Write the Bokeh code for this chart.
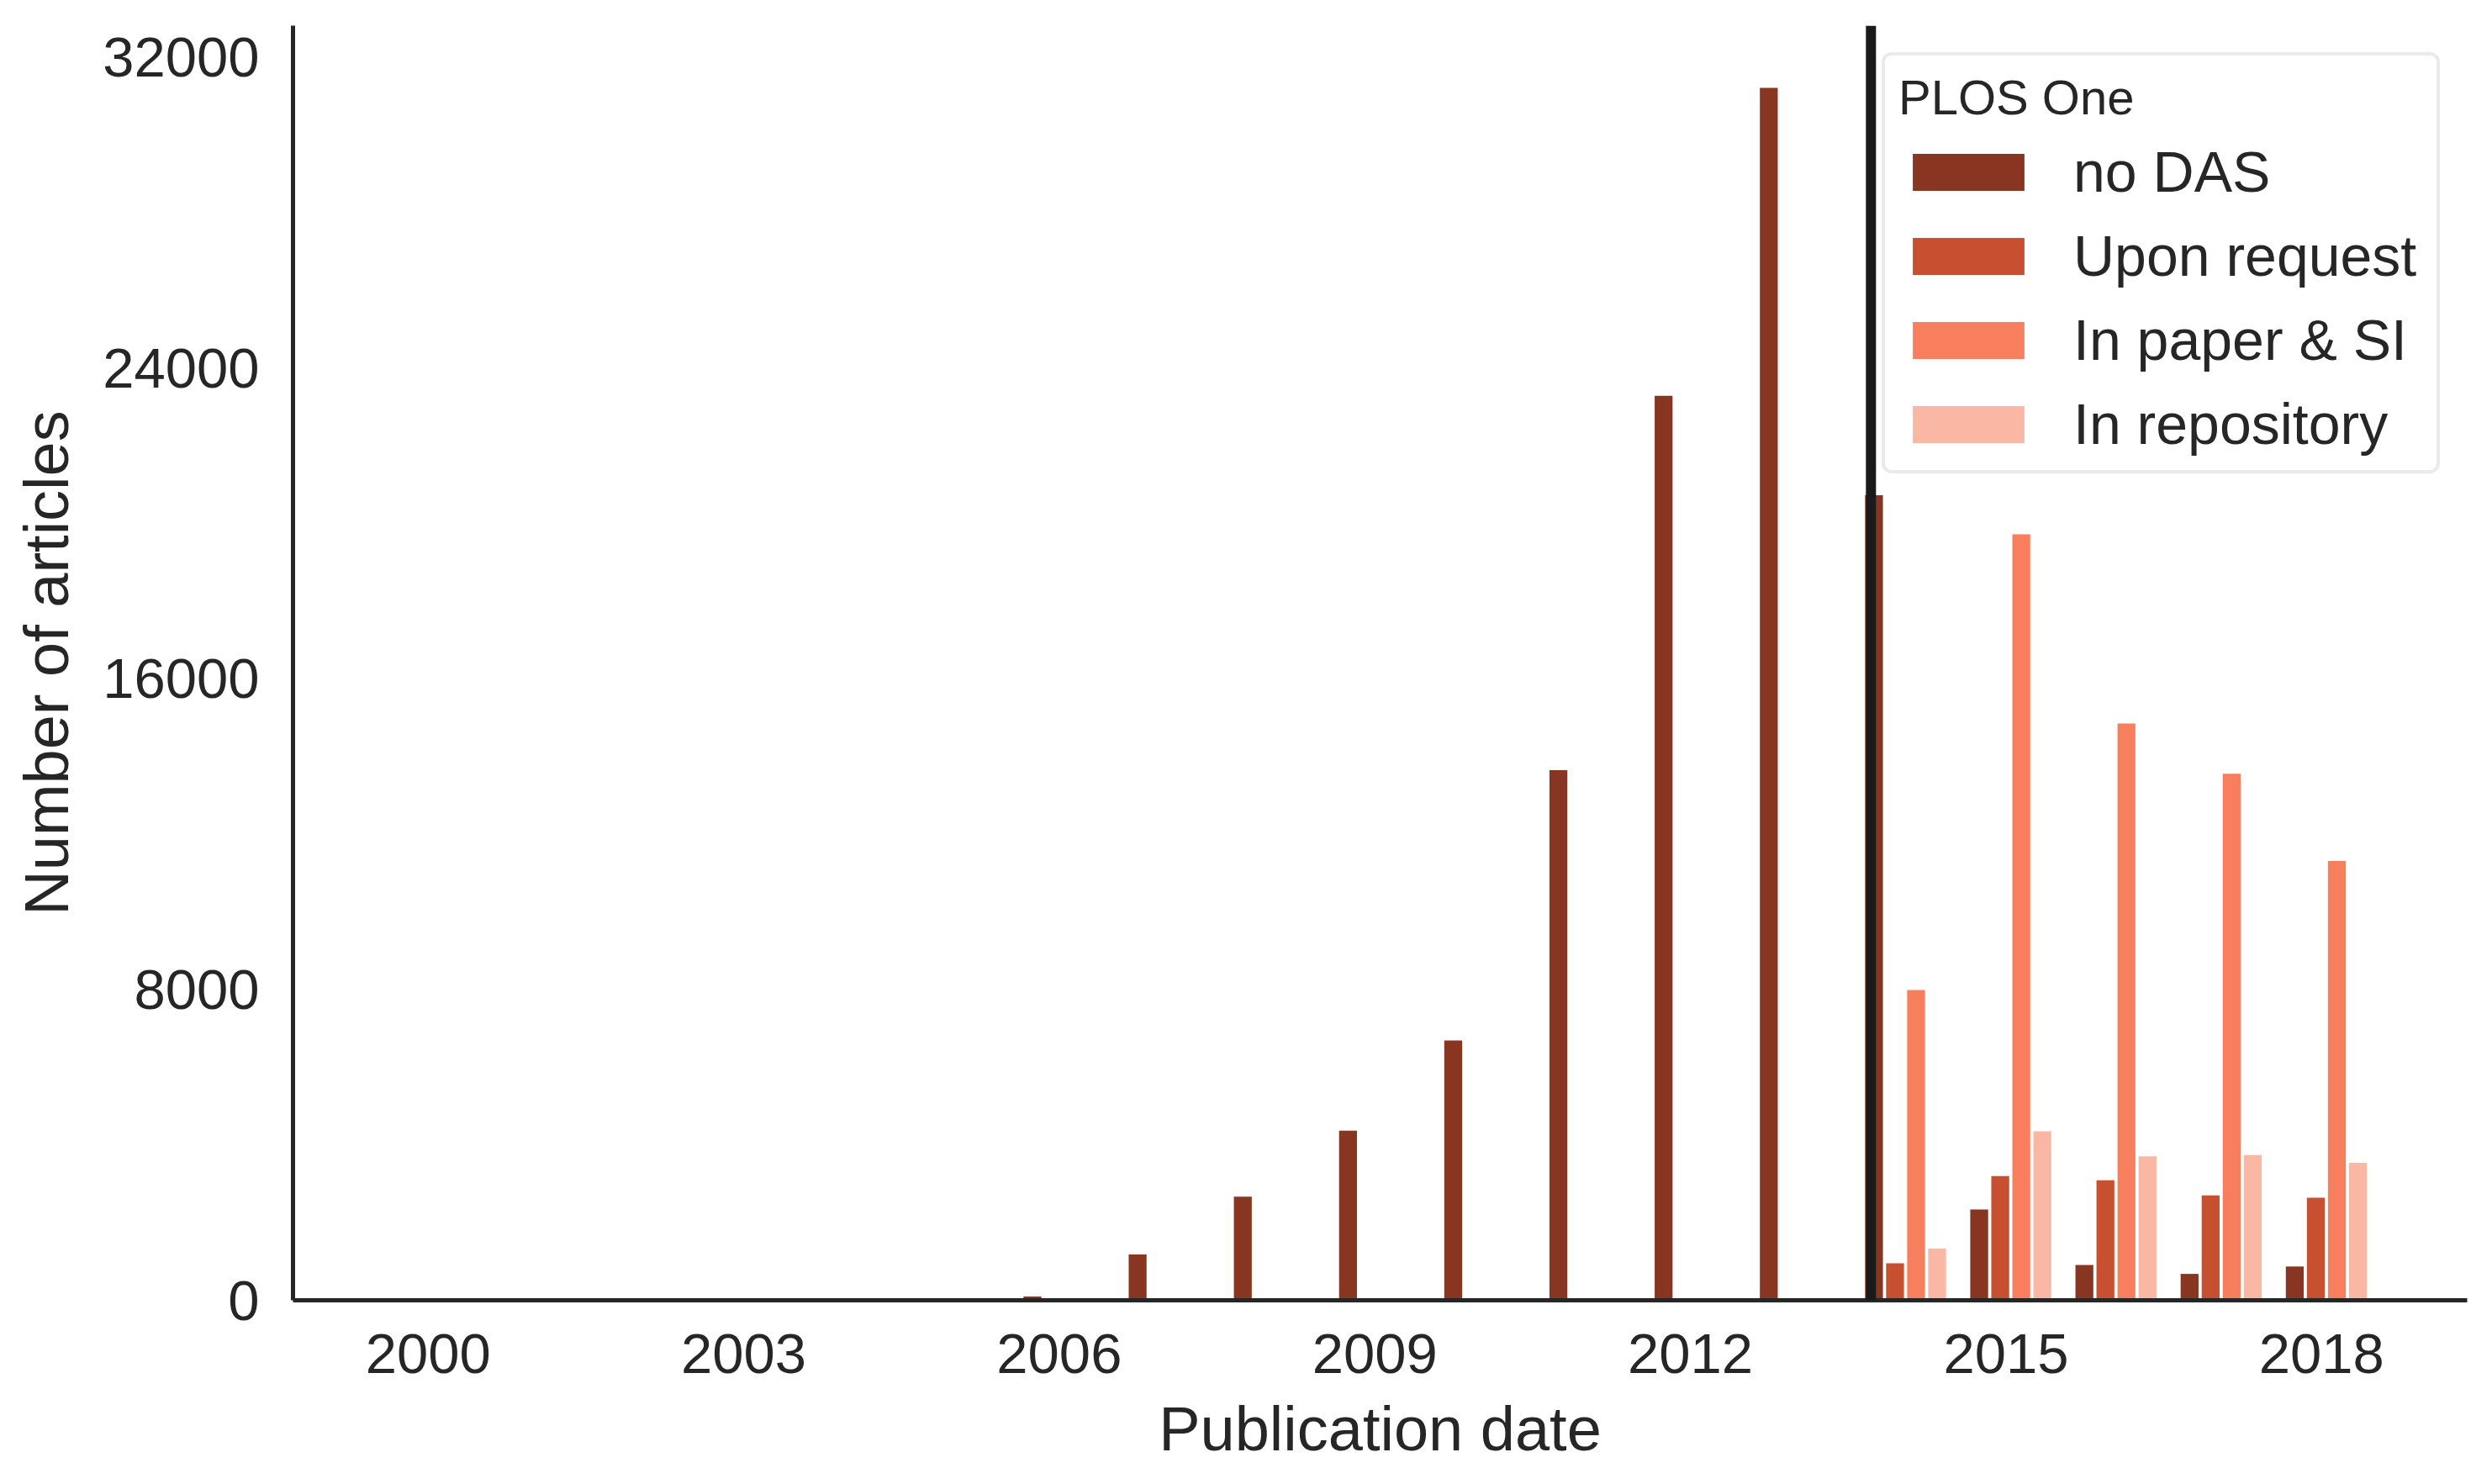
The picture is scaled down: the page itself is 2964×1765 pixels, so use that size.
from bokeh.plotting import figure
from bokeh.models import ColumnDataSource, FixedTicker, Span, Legend, LegendItem, Range1d
from bokeh.transform import dodge
from bokeh.embed import file_html
from bokeh.resources import INLINE

years = list(range(2000, 2019))
no_das = [0, 0, 0, 0, 0, 0, 100, 1180, 2670, 4370, 6690, 13650, 23290, 31220, 20730, 2340, 910, 680, 870]
upon_request = [0] * 14 + [955, 3200, 3090, 2700, 2640]
in_paper_si = [0] * 14 + [7990, 19720, 14850, 13560, 11310]
in_repository = [0] * 14 + [1330, 4350, 3710, 3740, 3540]

series_names = ["no DAS", "Upon request", "In paper & SI", "In repository"]
series_keys = ["no_das", "upon_request", "in_paper_si", "in_repository"]
colors = ["#883621", "#C75030", "#F77F5E", "#FAB7A3"]
offsets = [-0.255, -0.055, 0.145, 0.345]
policy_line = 2013.716

x_ticks = [2000, 2003, 2006, 2009, 2012, 2015, 2018]
y_ticks = [0, 8000, 16000, 24000, 32000]

source = ColumnDataSource(dict(year=years, no_das=no_das, upon_request=upon_request,
                               in_paper_si=in_paper_si, in_repository=in_repository))

FONT = "Liberation Sans"
TXT = "#262626"

p = figure(width=2948, height=1749, output_backend="svg", toolbar_location=None,
           x_range=Range1d(1998.716, 2019.384), y_range=Range1d(0, 32820),
           min_border_left=348, min_border_right=14, min_border_top=30, min_border_bottom=203)
p.outline_line_color = None
p.xgrid.visible = False
p.ygrid.visible = False
p.background_fill_color = "white"

renderers = []
for key, col, off in zip(series_keys, colors, offsets):
    r = p.vbar(x=dodge("year", off), top=key, width=0.17, source=source,
               fill_color=col, line_color=None)
    renderers.append(r)

p.add_layout(Span(location=policy_line, dimension="height", line_color="#1a1a1a", line_width=12))

for ax in (p.xaxis[0], p.yaxis[0]):
    ax.axis_line_color = TXT
    ax.axis_line_width = 5
    ax.major_tick_line_color = None
    ax.minor_tick_line_color = None
    ax.major_tick_out = 0
    ax.major_tick_in = 0
    ax.minor_tick_out = 0
    ax.major_label_text_font = FONT
    ax.major_label_text_font_size = "67px"
    ax.major_label_text_color = TXT
    ax.axis_label_text_font = FONT
    ax.axis_label_text_font_size = "74px"
    ax.axis_label_text_font_style = "normal"
    ax.axis_label_text_color = TXT

p.xaxis.ticker = FixedTicker(ticks=x_ticks)
p.yaxis.ticker = FixedTicker(ticks=y_ticks)
p.xaxis.axis_label = "Publication date"
p.yaxis.axis_label = "Number of articles"
p.xaxis.major_label_standoff = 40
p.yaxis.major_label_standoff = 40
p.xaxis.axis_label_standoff = 22
p.yaxis.axis_label_standoff = 22

items = [LegendItem(label=n, renderers=[r]) for n, r in zip(series_names, renderers)]
legend = Legend(items=items, location="top_right", margin=32)
legend.title = "PLOS One"
legend.title_text_font = FONT
legend.title_text_font_size = "58px"
legend.title_text_font_style = "normal"
legend.title_text_color = TXT
legend.title_standoff = 16
legend.label_text_font = FONT
legend.label_text_font_size = "68px"
legend.label_text_color = TXT
legend.label_width = 416
legend.glyph_width = 166
legend.glyph_height = 55
legend.label_standoff = 42
legend.spacing = 22
legend.padding = 16
legend.border_line_color = "#d6d6d6"
legend.border_line_width = 4
legend.border_radius = 12
legend.background_fill_color = "white"
legend.background_fill_alpha = 1.0
p.add_layout(legend)

open("out.html", "w").write(file_html(p, INLINE))
